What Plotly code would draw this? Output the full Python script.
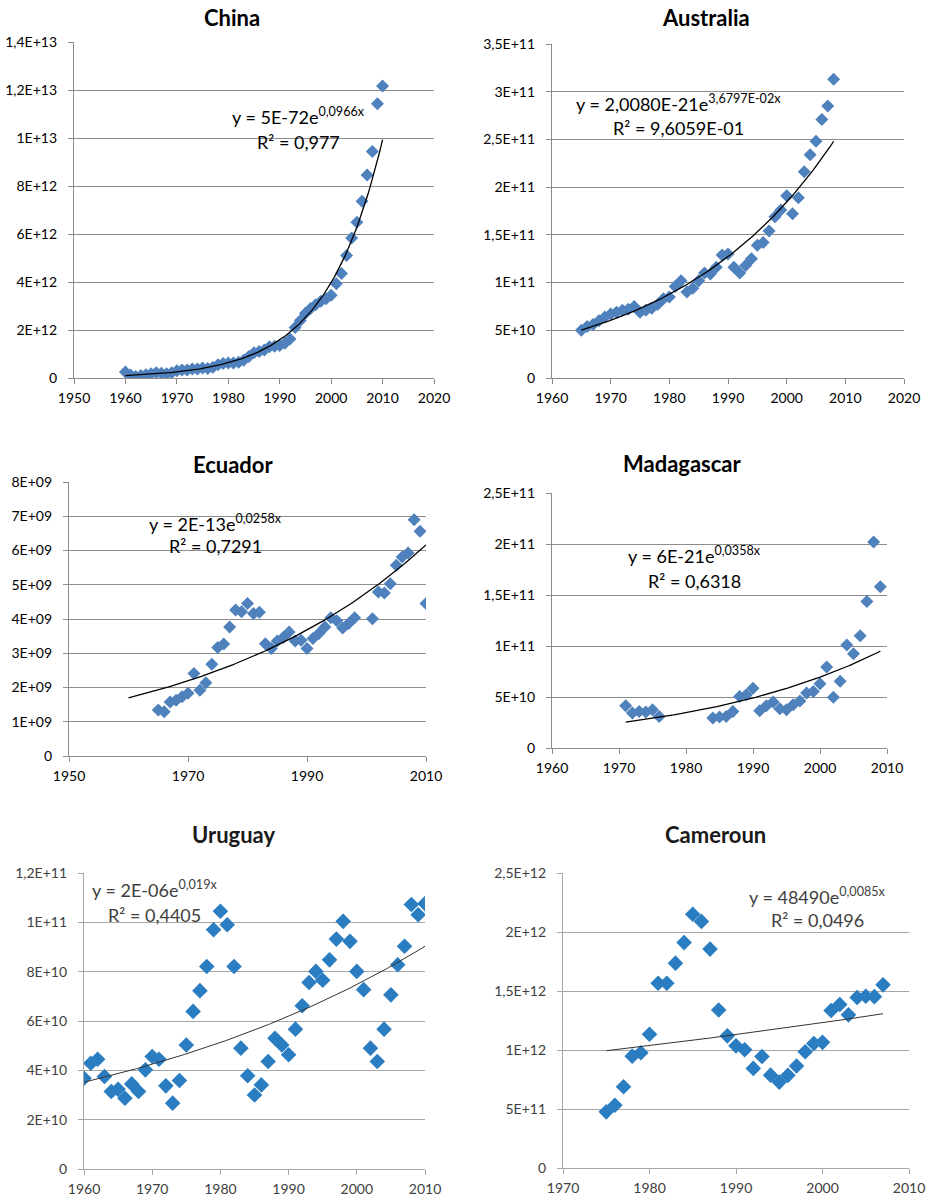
import numpy as np
import plotly.graph_objects as go

W, H = 931, 1201

# ---------------- data ----------------
china_years = list(range(1960, 2011))
china_values_e12 = [
    0.25, 0.12, 0.06, 0.10, 0.14, 0.18, 0.22, 0.20, 0.18, 0.22,
    0.30, 0.33, 0.33, 0.37, 0.38, 0.42, 0.40, 0.45, 0.55, 0.60,
    0.62, 0.62, 0.66, 0.74, 0.90, 1.05, 1.10, 1.17, 1.30, 1.32,
    1.35, 1.45, 1.62, 2.10, 2.40, 2.70, 2.90, 3.05, 3.20, 3.30,
    3.45, 3.93, 4.35, 5.10, 5.83, 6.49, 7.36, 8.46, 9.44, 11.43,
    12.17,
]

australia_years = list(range(1965, 2009))
australia_values_e10 = [
    5.0, 5.4, 5.6, 6.0, 6.4, 6.7, 6.9, 7.1, 7.2, 7.5,
    6.9, 7.1, 7.3, 7.7, 8.3, 8.5, 9.6, 10.2, 9.0, 9.4,
    10.2, 11.0, 10.9, 11.6, 12.9, 13.0, 11.6, 11.0, 11.8, 12.5,
    13.9, 14.2, 15.4, 16.9, 17.6, 19.1, 17.2, 18.9, 21.6, 23.4,
    24.8, 27.1, 28.5, 31.3,
]

ecuador_years = list(range(1965, 1999)) + list(range(2001, 2011))
ecuador_values_e9 = [
    1.34, 1.29, 1.58, 1.63, 1.73, 1.83, 2.41, 1.92, 2.14, 2.68,
    3.17, 3.27, 3.77, 4.26, 4.21, 4.45, 4.16, 4.20, 3.28, 3.14,
    3.36, 3.46, 3.62, 3.36, 3.38, 3.14, 3.43, 3.58, 3.77, 4.04,
    3.95, 3.74, 3.87, 4.04,
    4.01, 4.79, 4.76, 5.03, 5.57, 5.81, 5.93, 6.90, 6.56, 4.45,
]

madagascar_years = list(range(1971, 1977)) + list(range(1984, 2010))
madagascar_values_e10 = [
    4.14, 3.43, 3.59, 3.52, 3.75, 3.10,
    2.94, 3.04, 3.10, 3.59, 5.06, 5.22, 5.87, 3.65, 4.14, 4.50,
    3.85, 3.75, 4.25, 4.60, 5.38, 5.55, 6.30, 7.95, 4.98, 6.55,
    10.1, 9.24, 11.0, 14.36, 20.2, 15.8,
]

uruguay_years = list(range(1960, 2011))
uruguay_values_e10 = [
    3.68, 4.29, 4.45, 3.75, 3.14, 3.23, 2.87, 3.45, 3.14, 4.02,
    4.56, 4.45, 3.37, 2.67, 3.59, 5.03, 6.39, 7.23, 8.21, 9.70,
    10.45, 9.90, 8.21, 4.90, 3.78, 3.00, 3.41, 4.36, 5.30, 5.03,
    4.63, 5.67, 6.62, 7.56, 8.01, 7.65, 8.48, 9.32, 10.04, 9.23,
    8.01, 7.27, 4.90, 4.36, 5.67, 7.06, 8.28, 9.03, 10.72, 10.31,
    10.76,
]

cameroun_years = list(range(1975, 2008))
cameroun_values_e11 = [
    4.76, 5.32, 6.88, 9.48, 9.77, 11.33, 15.66, 15.66, 17.36, 19.10,
    21.50, 20.90, 18.55, 13.39, 11.20, 10.35, 10.02, 8.44, 9.45, 7.87,
    7.28, 7.85, 8.65, 9.85, 10.55, 10.65, 13.35, 13.85, 12.98, 14.45,
    14.55, 14.52, 15.52,
]

china_yticks = ["0", "2E+12", "4E+12", "6E+12", "8E+12", "1E+13", "1,2E+13", "1,4E+13"]
australia_yticks = ["0", "5E+10", "1E+11", "1,5E+11", "2E+11", "2,5E+11", "3E+11", "3,5E+11"]
ecuador_yticks = ["0", "1E+09", "2E+09", "3E+09", "4E+09", "5E+09", "6E+09", "7E+09", "8E+09"]
madagascar_yticks = ["0", "5E+10", "1E+11", "1,5E+11", "2E+11", "2,5E+11"]
uruguay_yticks = ["0", "2E+10", "4E+10", "6E+10", "8E+10", "1E+11", "1,2E+11"]
cameroun_yticks = ["0", "5E+11", "1E+12", "1,5E+12", "2E+12", "2,5E+12"]

# ---------------- styles ----------------
FONT = "Lato, 'Open Sans', sans-serif"
STYLE = {
    "classic": dict(marker="#4F81BD", msize=10, grid="#8C8C8C", axis="#8C8C8C",
                    text="#000000", trend="#000000", twidth=1.3, title="#000000"),
    "modern": dict(marker="#2A7DC1", msize=12, grid="#A6A6A6", axis="#A6A6A6",
                   text="#404040", trend="#333333", twidth=1.0, title="#1a1a1a"),
}

panels = [
    dict(title="China", x=china_years, y=np.array(china_values_e12) * 1e12,
         box=(74, 42, 434, 378), xr=(1950, 2020), xdt=10,
         ymax=1.4e13, ydt=2e12, yticks=china_yticks, span=(1960, 2010),
         eq="y = 5E-72e<sup>0,0966x</sup>", r2="R² = 0,977",
         eq_at=(298, 116), r2_at=(298, 142), title_at=(232, 17), style="classic"),
    dict(title="Australia", x=australia_years, y=np.array(australia_values_e10) * 1e10,
         box=(552, 44, 904, 378), xr=(1960, 2020), xdt=10,
         ymax=3.5e11, ydt=5e10, yticks=australia_yticks, span=(1965, 2008),
         eq="y = 2,0080E-21e<sup>3,6797E-02x</sup>", r2="R² = 9,6059E-01",
         eq_at=(678, 103), r2_at=(678, 128), title_at=(706, 17), style="classic"),
    dict(title="Ecuador", x=ecuador_years, y=np.array(ecuador_values_e9) * 1e9,
         box=(69, 482, 426, 756), xr=(1950, 2010), xdt=20,
         ymax=8e9, ydt=1e9, yticks=ecuador_yticks, span=(1960, 2010),
         eq="y = 2E-13e<sup>0,0258x</sup>", r2="R² = 0,7291",
         eq_at=(215, 523), r2_at=(215, 546), title_at=(233, 465), style="classic"),
    dict(title="Madagascar", x=madagascar_years, y=np.array(madagascar_values_e10) * 1e10,
         box=(552, 493, 887, 748), xr=(1960, 2010), xdt=10,
         ymax=2.5e11, ydt=5e10, yticks=madagascar_yticks, span=(1971, 2009),
         eq="y = 6E-21e<sup>0,0358x</sup>", r2="R² = 0,6318",
         eq_at=(694, 555), r2_at=(694, 581), title_at=(682, 463), style="classic"),
    dict(title="Uruguay", x=uruguay_years, y=np.array(uruguay_values_e10) * 1e10,
         box=(84, 873, 425, 1169), xr=(1960, 2010), xdt=10,
         ymax=1.2e11, ydt=2e10, yticks=uruguay_yticks, span=(1960, 2010),
         eq="y = 2E-06e<sup>0,019x</sup>", r2="R² = 0,4405",
         eq_at=(154, 889), r2_at=(154, 915), title_at=(233, 834), style="modern"),
    dict(title="Cameroun", x=cameroun_years, y=np.array(cameroun_values_e11) * 1e11,
         box=(563, 873, 909, 1168), xr=(1970, 2010), xdt=10,
         ymax=2.5e12, ydt=5e11, yticks=cameroun_yticks, span=(1975, 2007),
         eq="y = 48490e<sup>0,0085x</sup>", r2="R² = 0,0496",
         eq_at=(817, 896), r2_at=(817, 920), title_at=(715, 834), style="modern"),
]


def px_x(v):
    return v / W


def px_y(v):
    return 1 - v / H


fig = go.Figure()
annotations = []
layout_axes = {}

for i, p in enumerate(panels, start=1):
    st = STYLE[p["style"]]
    xa = "x" if i == 1 else f"x{i}"
    ya = "y" if i == 1 else f"y{i}"
    xkey = "xaxis" if i == 1 else f"xaxis{i}"
    ykey = "yaxis" if i == 1 else f"yaxis{i}"

    x0, y0, x1, y1 = p["box"]
    xvals = np.array(p["x"], dtype=float)
    yvals = np.asarray(p["y"], dtype=float)

    # exponential trend: least squares on log(y)
    b, c = np.polyfit(xvals - 2000, np.log(yvals), 1)
    xs = np.linspace(p["span"][0], p["span"][1], 160)
    ys = np.exp(c + b * (xs - 2000))

    fig.add_trace(go.Scatter(
        x=xvals, y=yvals, mode="markers", xaxis=xa, yaxis=ya,
        marker=dict(symbol="diamond", size=st["msize"], color=st["marker"],
                    line=dict(width=0)),
        showlegend=False, hoverinfo="skip"))
    fig.add_trace(go.Scatter(
        x=xs, y=ys, mode="lines", xaxis=xa, yaxis=ya,
        line=dict(color=st["trend"], width=st["twidth"]),
        showlegend=False, hoverinfo="skip"))

    n_y = len(p["yticks"])
    layout_axes[xkey] = dict(
        domain=[px_x(x0), px_x(x1)], anchor=ya, range=list(p["xr"]),
        tickmode="linear", tick0=p["xr"][0], dtick=p["xdt"],
        showgrid=False, zeroline=False, showline=True, automargin=False,
        linecolor=st["axis"], linewidth=1.3,
        ticks="outside", ticklen=5, tickcolor=st["axis"], tickwidth=1.3,
        ticklabelstandoff=2,
        tickfont=dict(family=FONT, size=14, color=st["text"]),
        fixedrange=True)
    layout_axes[ykey] = dict(
        domain=[px_y(y1), px_y(y0)], anchor=xa, range=[0, p["ymax"]],
        tickmode="array", tickvals=[k * p["ydt"] for k in range(n_y)],
        ticktext=p["yticks"], automargin=False,
        showgrid=True, gridcolor=st["grid"], gridwidth=1.3,
        zeroline=False, showline=True, linecolor=st["axis"], linewidth=1.3,
        ticks="outside", ticklen=5, tickcolor=st["axis"], tickwidth=1.3,
        ticklabelstandoff=8,
        tickfont=dict(family=FONT, size=14, color=st["text"]),
        fixedrange=True)

    tx, ty = p["title_at"]
    annotations.append(dict(
        text=f"<b>{p['title']}</b>", x=px_x(tx), y=px_y(ty), xref="paper", yref="paper",
        xanchor="center", yanchor="middle", showarrow=False,
        font=dict(family=FONT, size=22, color=st["title"])))
    ex, ey = p["eq_at"]
    annotations.append(dict(
        text=p["eq"], x=px_x(ex), y=px_y(ey), xref="paper", yref="paper",
        xanchor="center", yanchor="middle", showarrow=False,
        font=dict(family=FONT, size=18, color=st["text"])))
    rx, ry = p["r2_at"]
    annotations.append(dict(
        text=p["r2"], x=px_x(rx), y=px_y(ry), xref="paper", yref="paper",
        xanchor="center", yanchor="middle", showarrow=False,
        font=dict(family=FONT, size=18, color=st["text"])))

fig.update_layout(
    width=W, height=H, autosize=False,
    margin=dict(l=0, r=0, t=0, b=0, autoexpand=False),
    paper_bgcolor="white", plot_bgcolor="white",
    annotations=annotations,
    **layout_axes,
)

fig.write_html("out.html", config={"displayModeBar": False})
